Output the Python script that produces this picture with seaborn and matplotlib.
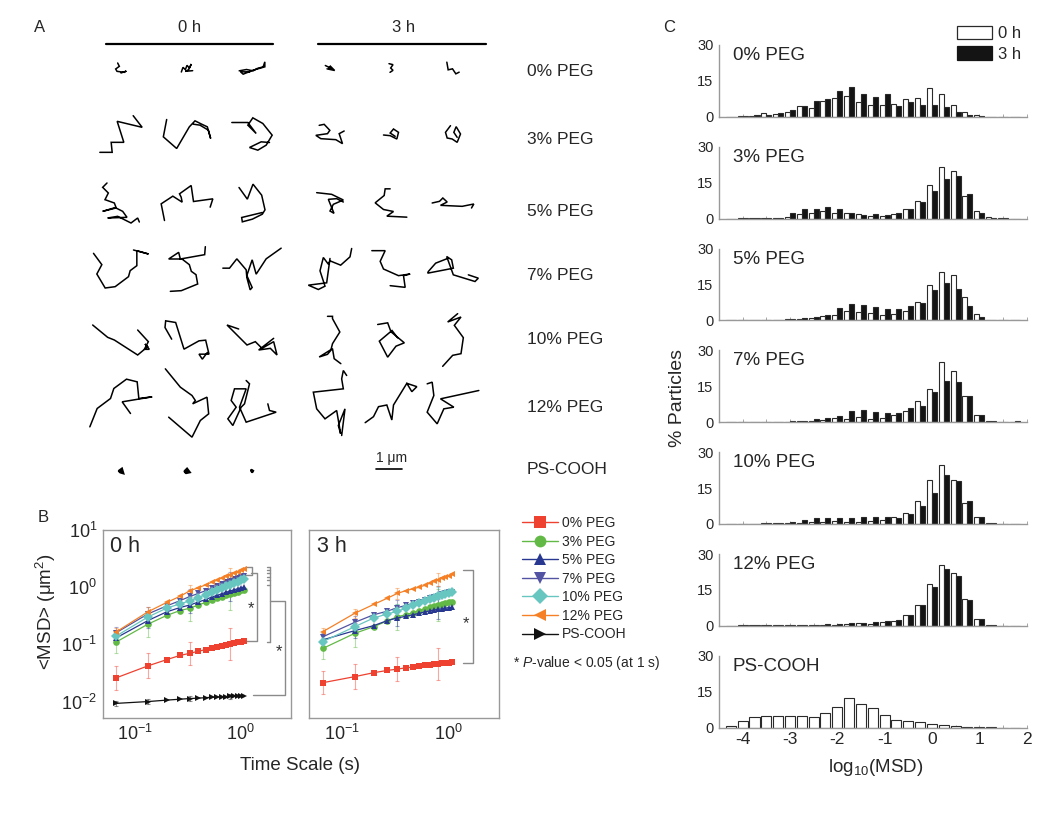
import numpy as np
import pandas as pd
import matplotlib
matplotlib.use("Agg")
import matplotlib.pyplot as plt
import matplotlib.ticker as mticker
from matplotlib.lines import Line2D
from matplotlib.patches import Patch
import seaborn as sns

# ============================ DATA ============================
SERIES = ["0% PEG", "3% PEG", "5% PEG", "7% PEG", "10% PEG", "12% PEG", "PS-COOH"]

# ---- Panel B: MSD vs time scale ----
TIME_S = [0.067, 0.133, 0.2, 0.267, 0.333, 0.4, 0.467, 0.533,
          0.6, 0.667, 0.733, 0.8, 0.867, 0.933, 1.0, 1.067]

MSD_0H_0PEG = [0.026, 0.042, 0.054, 0.064, 0.070, 0.076, 0.081, 0.086, 0.090, 0.094, 0.098, 0.102, 0.106, 0.109, 0.112, 0.115]
MSD_0H_3PEG = [0.11, 0.225, 0.32, 0.39, 0.43, 0.49, 0.54, 0.59, 0.64, 0.68, 0.72, 0.76, 0.80, 0.84, 0.88, 0.91]
MSD_0H_5PEG = [0.13, 0.26, 0.37, 0.44, 0.49, 0.55, 0.61, 0.67, 0.72, 0.77, 0.82, 0.86, 0.90, 0.94, 0.97, 1.00]
MSD_0H_7PEG = [0.16, 0.34, 0.47, 0.58, 0.69, 0.78, 0.87, 0.96, 1.05, 1.13, 1.21, 1.29, 1.37, 1.45, 1.52, 1.60]
MSD_0H_10PEG = [0.14, 0.30, 0.43, 0.51, 0.58, 0.66, 0.74, 0.82, 0.90, 0.97, 1.04, 1.11, 1.18, 1.25, 1.31, 1.37]
MSD_0H_12PEG = [0.165, 0.37, 0.54, 0.69, 0.87, 0.98, 1.10, 1.22, 1.33, 1.45, 1.55, 1.66, 1.78, 1.88, 1.98, 2.08]
MSD_0H_PS = [0.0093, 0.0100, 0.0106, 0.0110, 0.0113, 0.0115, 0.0117, 0.0119, 0.0120, 0.0121, 0.0122, 0.0123, 0.0124, 0.0125, 0.0126, 0.0127]

MSD_3H_0PEG = [0.0214, 0.0273, 0.032, 0.035, 0.037, 0.039, 0.040, 0.042, 0.043, 0.044, 0.045, 0.046, 0.047, 0.0475, 0.048, 0.0486]
MSD_3H_3PEG = [0.085, 0.156, 0.204, 0.257, 0.305, 0.33, 0.36, 0.39, 0.42, 0.45, 0.47, 0.49, 0.51, 0.53, 0.55, 0.56]
MSD_3H_5PEG = [0.12, 0.174, 0.213, 0.26, 0.29, 0.31, 0.33, 0.35, 0.37, 0.385, 0.40, 0.41, 0.42, 0.43, 0.44, 0.445]
MSD_3H_7PEG = [0.136, 0.243, 0.33, 0.38, 0.44, 0.48, 0.52, 0.56, 0.60, 0.64, 0.68, 0.71, 0.75, 0.78, 0.81, 0.835]
MSD_3H_10PEG = [0.112, 0.204, 0.29, 0.34, 0.38, 0.43, 0.48, 0.53, 0.58, 0.62, 0.66, 0.70, 0.73, 0.76, 0.79, 0.81]
MSD_3H_12PEG = [0.167, 0.35, 0.50, 0.64, 0.78, 0.87, 0.94, 1.00, 1.08, 1.17, 1.26, 1.35, 1.43, 1.52, 1.60, 1.68]

# error bars shown at a few time scales only (index into TIME_S), multiplicative spread
ERR_IDX = [0, 1, 4, 11]
ERR_FACTOR = {"0% PEG": [1.6, 1.65, 1.6, 1.9], "3% PEG": [1.55, 1.7, 1.7, 1.9],
              "5% PEG": [1.3, 1.35, 1.4, 1.5], "7% PEG": [1.25, 1.3, 1.35, 1.45],
              "10% PEG": [1.25, 1.3, 1.35, 1.45], "12% PEG": [1.15, 1.2, 1.25, 1.3],
              "PS-COOH": [1.1, 1.1, 1.1, 1.1]}

# ---- Panel C: log10(MSD) histograms (% particles) ----
BIN_CENTERS = [-4.25, -4.0, -3.75, -3.5, -3.25, -3.0, -2.75, -2.5, -2.25, -2.0, -1.75, -1.5, -1.25,
               -1.0, -0.75, -0.5, -0.25, 0.0, 0.25, 0.5, 0.75, 1.0, 1.25, 1.5, 1.75]
H0_0PEG = [0, 0.3, 0.5, 1.5, 1.2, 2.0, 4.3, 3.8, 6.6, 7.8, 8.5, 6.0, 4.8, 5.0, 5.5, 7.6, 8.0, 12.2, 9.3, 5.0, 2.0, 0.6, 0, 0, 0]
H3_0PEG = [0, 0.3, 0.8, 0.8, 1.4, 2.7, 4.3, 6.5, 7.3, 10.6, 12.4, 9.5, 8.4, 9.6, 4.6, 6.1, 4.8, 4.7, 4.0, 2.0, 0.8, 0.3, 0, 0, 0]
H0_3PEG = [0, 0.1, 0.1, 0.2, 0.2, 0.8, 1.8, 2.5, 3.0, 2.4, 2.3, 2.0, 1.0, 1.2, 2.0, 3.8, 7.3, 14.1, 21.5, 20.0, 9.6, 3.1, 0.5, 0.1, 0]
H3_3PEG = [0, 0.1, 0.1, 0.2, 0.3, 2.1, 3.8, 3.9, 5.0, 3.8, 2.3, 1.6, 1.8, 1.6, 2.5, 3.9, 6.7, 11.6, 16.6, 17.8, 10.4, 2.4, 0.3, 0.1, 0]
H0_5PEG = [0, 0, 0, 0.1, 0.2, 0.4, 0.6, 0.9, 1.8, 2.4, 4.0, 3.6, 3.1, 2.2, 2.6, 3.7, 7.8, 14.6, 20.4, 19.0, 9.6, 2.8, 0.3, 0.1, 0]
H3_5PEG = [0, 0, 0, 0.1, 0.3, 0.5, 0.8, 1.2, 2.3, 5.0, 6.8, 6.2, 5.4, 4.8, 4.6, 6.0, 7.3, 12.5, 15.6, 13.2, 5.8, 1.4, 0.2, 0.1, 0]
H0_7PEG = [0, 0.1, 0.1, 0.1, 0.2, 0.2, 0.4, 0.6, 0.8, 1.9, 1.5, 2.1, 1.5, 1.8, 2.9, 4.5, 8.8, 14.0, 25.3, 21.2, 10.9, 3.1, 0.3, 0.1, 0.1]
H3_7PEG = [0, 0.1, 0.1, 0.1, 0.2, 0.3, 0.5, 1.2, 1.8, 2.7, 4.8, 5.0, 4.3, 3.7, 3.8, 5.8, 6.9, 12.5, 17.0, 16.8, 10.9, 3.1, 0.3, 0.1, 0.3]
H0_10PEG = [0, 0.1, 0.1, 0.2, 0.3, 0.4, 0.5, 0.9, 1.0, 1.3, 1.0, 1.0, 1.1, 1.6, 2.7, 4.4, 9.5, 18.5, 24.5, 18.3, 8.8, 2.8, 0.3, 0.1, 0]
H3_10PEG = [0, 0.1, 0.1, 0.2, 0.3, 0.8, 1.7, 2.6, 2.6, 2.4, 2.3, 2.9, 2.8, 2.8, 2.6, 4.1, 7.5, 13.0, 20.5, 18.0, 9.4, 2.7, 0.2, 0.1, 0]
H0_12PEG = [0, 0.1, 0.1, 0.1, 0.1, 0.2, 0.3, 0.4, 0.5, 0.5, 0.8, 1.0, 0.9, 1.4, 1.8, 4.3, 8.8, 17.5, 25.3, 22.2, 11.2, 3.0, 0.3, 0, 0]
H3_12PEG = [0, 0.1, 0.1, 0.1, 0.2, 0.3, 0.3, 0.5, 0.6, 0.8, 1.0, 1.2, 1.5, 1.9, 2.3, 4.3, 8.7, 16.2, 23.8, 20.8, 10.9, 3.0, 0.2, 0, 0]
H0_PS = [0.8, 2.7, 4.3, 4.9, 4.9, 4.9, 4.8, 4.6, 6.0, 8.6, 12.2, 9.9, 8.2, 5.2, 3.2, 2.9, 2.1, 1.5, 1.1, 0.7, 0.3, 0.15, 0.1, 0, 0]

# ---- Panel A: example trajectories (traced, 78 units = 1 um) ----
TRACE_UNITS_PER_UM = 78
TRAJ_0PEG = [
    [(352, 182), (357, 192), (346, 200), (350, 207), (372, 210), (378, 206), (362, 212)],
    [(548, 212), (553, 198), (560, 205), (565, 192), (572, 200), (578, 188), (570, 205), (560, 210), (582, 208)],
    [(718, 212), (740, 208), (760, 212), (772, 205), (790, 200), (795, 185), (795, 200), (760, 210), (730, 222), (722, 215), (750, 215)],
    [(975, 190), (985, 195), (995, 200), (985, 198), (990, 192), (1003, 205), (980, 200)],
    [(1160, 192), (1172, 195), (1165, 205), (1172, 212), (1163, 218)],
    [(1343, 175), (1347, 198), (1360, 195), (1370, 210), (1380, 205)],
]
TRAJ_3PEG = [
    [(298, 455), (335, 455), (332, 425), (370, 425), (350, 362), (425, 380), (398, 345)],
    [(500, 358), (490, 410), (530, 445), (568, 380), (585, 362), (605, 372), (622, 380), (632, 415), (625, 390), (600, 375), (580, 372)],
    [(697, 372), (745, 372), (770, 405), (745, 380), (760, 358), (790, 375), (818, 410), (800, 440), (775, 455), (750, 447), (785, 430), (810, 432)],
    [(960, 375), (975, 372), (992, 390), (985, 400), (950, 405), (965, 415), (1010, 418), (1030, 430), (1020, 400), (1035, 392)],
    [(1150, 408), (1170, 410), (1190, 420), (1195, 400), (1180, 390), (1170, 402), (1185, 412)],
    [(1355, 375), (1340, 395), (1345, 412), (1360, 415), (1375, 425), (1385, 400), (1372, 378), (1365, 395), (1375, 410)],
]
TRAJ_5PEG = [
    [(318, 545), (305, 558), (322, 575), (312, 595), (340, 605), (345, 618), (305, 630), (345, 620), (365, 630), (378, 648), (320, 650), (350, 645), (390, 665), (410, 650), (415, 662)],
    [(495, 655), (485, 605), (520, 582), (548, 600), (545, 585), (540, 575), (575, 550), (582, 598), (640, 590), (632, 615)],
    [(720, 565), (745, 600), (762, 555), (788, 588), (798, 632), (790, 645), (760, 660), (730, 668), (728, 655), (790, 640)],
    [(950, 570), (995, 575), (1030, 592), (1000, 605), (990, 625), (1002, 632), (985, 590), (1010, 588), (1030, 598)],
    [(1170, 560), (1155, 560), (1152, 580), (1125, 602), (1150, 622), (1180, 628), (1160, 642), (1220, 645)],
    [(1300, 605), (1322, 600), (1332, 590), (1345, 602), (1325, 612), (1390, 615), (1425, 608), (1418, 620)],
]
TRAJ_7PEG = [
    [(280, 38), (305, 72), (290, 100), (315, 142), (345, 138), (385, 108), (390, 90), (410, 75), (410, 30), (445, 40), (400, 28)],
    [(620, 18), (618, 42), (545, 55), (540, 35), (510, 55), (550, 55), (572, 72), (578, 92), (592, 102), (597, 130), (548, 150), (515, 152)],
    [(670, 90), (690, 90), (712, 62), (740, 95), (742, 118), (752, 155), (758, 148), (742, 112), (758, 65), (770, 108), (800, 62), (845, 30)],
    [(1055, 25), (1050, 50), (1022, 75), (990, 62), (985, 72), (970, 52), (960, 92), (975, 138), (955, 148), (925, 135), (980, 128), (990, 55)],
    [(1115, 30), (1155, 30), (1140, 62), (1150, 85), (1195, 105), (1230, 100), (1210, 105), (1215, 140), (1170, 135)],
    [(1350, 55), (1312, 70), (1290, 95), (1288, 100), (1340, 90), (1365, 85), (1360, 60), (1345, 50), (1365, 105), (1430, 125), (1440, 115), (1410, 105)],
]
TRAJ_10PEG = [
    [(275, 245), (320, 282), (340, 290), (410, 335), (440, 310), (432, 302), (445, 318), (430, 318), (442, 295), (410, 260)],
    [(518, 285), (498, 250), (500, 230), (530, 235), (555, 315), (600, 290), (620, 288), (630, 330), (600, 330), (610, 345), (625, 325)],
    [(720, 262), (685, 250), (745, 310), (770, 300), (790, 320), (825, 300), (835, 340), (815, 320), (780, 325), (825, 290)],
    [(985, 218), (1000, 218), (1000, 225), (1022, 265), (1000, 300), (995, 320), (985, 332), (960, 340), (1000, 315), (1005, 345), (1025, 360)],
    [(1135, 240), (1165, 235), (1175, 262), (1215, 295), (1190, 305), (1165, 338), (1140, 290), (1178, 258), (1195, 280)],
    [(1375, 220), (1345, 245), (1385, 230), (1365, 255), (1392, 292), (1385, 340), (1360, 345), (1330, 378)],
]
TRAJ_12PEG = [
    [(268, 565), (290, 510), (330, 480), (340, 450), (378, 422), (410, 430), (415, 480), (455, 475), (365, 490), (390, 525)],
    [(500, 385), (545, 440), (580, 465), (590, 480), (582, 490), (625, 470), (630, 520), (605, 540), (580, 590), (510, 530)],
    [(740, 430), (750, 440), (735, 500), (725, 510), (700, 565), (685, 545), (710, 510), (695, 490), (705, 455), (740, 455), (720, 510), (740, 555), (830, 525), (810, 520), (805, 500)],
    [(1040, 410), (1030, 395), (1025, 420), (1030, 450), (940, 460), (950, 510), (975, 540), (1010, 515), (1022, 585), (1015, 560), (1035, 510), (1025, 590)],
    [(1095, 548), (1120, 530), (1135, 500), (1160, 495), (1175, 540), (1180, 495), (1220, 430), (1250, 440), (1235, 455), (1220, 430)],
    [(1285, 445), (1300, 440), (1305, 480), (1285, 530), (1315, 565), (1335, 520), (1365, 515), (1325, 490), (1440, 465)],
]
TRAJ_PS = [
    [(355, 695), (362, 690), (365, 700), (358, 698)],
    [(560, 690), (566, 684), (572, 692), (563, 694)],
    [(755, 698), (758, 700), (757, 702)],
]

# ============================ STYLE ============================
COLORS = {"0% PEG": "#EF4130", "3% PEG": "#62B946", "5% PEG": "#283891", "7% PEG": "#5253A3",
          "10% PEG": "#67C6C0", "12% PEG": "#F58026", "PS-COOH": "#111111"}
MARKERS = {"0% PEG": "s", "3% PEG": "o", "5% PEG": "^", "7% PEG": "v",
           "10% PEG": "D", "12% PEG": "<", "PS-COOH": ">"}
GRAY = "#999999"

sns.set_theme(style="white")
plt.rcParams["font.family"] = ["Liberation Sans", "DejaVu Sans"]
plt.rcParams["mathtext.fontset"] = "custom"
plt.rcParams["mathtext.rm"] = "Liberation Sans"
plt.rcParams["mathtext.it"] = "Liberation Sans:italic"
plt.rcParams["mathtext.bf"] = "Liberation Sans:bold"
plt.rcParams["axes.unicode_minus"] = False

W, H = 1050, 816
fig = plt.figure(figsize=(W / 100, H / 100), dpi=100)


def fx(px):
    return px / W


def fy(py):
    return 1 - py / H


# ============================ PANEL A ============================
axA = fig.add_axes([0, fy(490), fx(520), 490 / H])
axA.set_xlim(0, 520)
axA.set_ylim(490, 0)
axA.axis("off")
PX_PER_UM = 26
COL_X = [121, 187, 252, 330, 391, 453]
ROW_Y = [68, 134, 203, 269, 340, 403, 471]
rows = [TRAJ_0PEG, TRAJ_3PEG, TRAJ_5PEG, TRAJ_7PEG, TRAJ_10PEG, TRAJ_12PEG, TRAJ_PS]
scale = PX_PER_UM / TRACE_UNITS_PER_UM
for r, trajs in enumerate(rows):
    for c, tr in enumerate(trajs):
        arr = np.array(tr, dtype=float)
        cx = (arr[:, 0].min() + arr[:, 0].max()) / 2
        cy = (arr[:, 1].min() + arr[:, 1].max()) / 2
        xs = COL_X[c] + (arr[:, 0] - cx) * scale
        ys = ROW_Y[r] + (arr[:, 1] - cy) * scale
        lw = 2.2 if r == 6 else 1.1
        axA.plot(xs, ys, color="black", lw=lw, solid_joinstyle="miter")

axA.text(40, 27, "A", fontsize=12, ha="center", va="center")
axA.text(190, 27, "0 h", fontsize=12, ha="center", va="center")
axA.text(404, 27, "3 h", fontsize=12, ha="center", va="center")
axA.plot([106, 273], [43.5, 43.5], color="black", lw=1.6)
axA.plot([318, 486], [43.5, 43.5], color="black", lw=1.6)
for lab, yy in zip(SERIES, [72, 140, 211, 276, 340, 408, 470]):
    axA.text(527, yy, lab, fontsize=12.5, ha="left", va="center")
axA.plot([376, 376 + PX_PER_UM], [468.5, 468.5], color="black", lw=1.2)
axA.text(392, 458, "1 μm", fontsize=10, ha="center", va="center")

# ============================ PANEL B ============================
axB0 = fig.add_axes([fx(102.7), fy(718.3), 188 / W, 188.3 / H])
axB1 = fig.add_axes([fx(309.3), fy(718.3), 189.7 / W, 188.3 / H])

msd_sets = {
    "0 h": dict(zip(SERIES, [MSD_0H_0PEG, MSD_0H_3PEG, MSD_0H_5PEG, MSD_0H_7PEG, MSD_0H_10PEG, MSD_0H_12PEG, MSD_0H_PS])),
    "3 h": dict(zip(SERIES[:-1], [MSD_3H_0PEG, MSD_3H_3PEG, MSD_3H_5PEG, MSD_3H_7PEG, MSD_3H_10PEG, MSD_3H_12PEG])),
}

for ax, (tlabel, sets) in zip([axB0, axB1], msd_sets.items()):
    rows_df = []
    for s, vals in sets.items():
        for t, v in zip(TIME_S, vals):
            rows_df.append({"t": t, "msd": v, "series": s})
    df = pd.DataFrame(rows_df)
    order = [s for s in SERIES if s in sets]
    for s in order:
        vals = np.array(sets[s])
        tt = np.array(TIME_S)[ERR_IDX]
        yy = vals[ERR_IDX]
        f = np.array(ERR_FACTOR[s])
        ax.errorbar(tt, yy, yerr=[yy - yy / f, yy * f - yy], fmt="none",
                    ecolor=COLORS[s], alpha=0.45, elinewidth=0.8, capsize=1.5, capthick=0.8, zorder=1)
    sns.lineplot(data=df, x="t", y="msd", hue="series", style="series", hue_order=order,
                 style_order=order, palette=COLORS, markers=MARKERS, dashes=False,
                 estimator=None, sort=False, legend=False, ax=ax,
                 linewidth=0.9, markersize=4.8, markeredgewidth=0, zorder=3)
    ax.set_xscale("log")
    ax.set_yscale("log")
    ax.set_xlim(0.05, 2.96)
    ax.set_ylim(0.0051, 10)
    ax.set_xlabel("")
    ax.set_ylabel("")
    ax.xaxis.set_major_locator(mticker.LogLocator(base=10, numticks=10))
    ax.xaxis.set_minor_locator(mticker.LogLocator(base=10, subs=np.arange(2, 10), numticks=10))
    ax.yaxis.set_major_locator(mticker.LogLocator(base=10, numticks=10))
    ax.yaxis.set_minor_locator(mticker.LogLocator(base=10, subs=np.arange(2, 10), numticks=10))
    ax.xaxis.set_minor_formatter(mticker.NullFormatter())
    ax.yaxis.set_minor_formatter(mticker.NullFormatter())
    ax.tick_params(which="both", direction="in", color=GRAY, labelsize=13, pad=4)
    ax.tick_params(which="major", length=4, width=0.8)
    ax.tick_params(which="minor", length=2, width=0.6)
    for sp in ax.spines.values():
        sp.set_color(GRAY)
        sp.set_linewidth(1.0)
    ax.text(0.04, 0.883, tlabel, transform=ax.transAxes, fontsize=15.5, ha="left", va="baseline")

axB1.tick_params(labelleft=False)

# significance brackets (axes-fraction coordinates)
bk = dict(color="#8a8a8a", lw=1.0, clip_on=False, transform=axB0.transAxes)
axB0.plot([0.757, 0.793, 0.793, 0.757], [0.805, 0.805, 0.761, 0.761], **bk)
axB0.plot([0.79, 0.822, 0.822, 0.757], [0.773, 0.773, 0.41, 0.41], **bk)
axB0.plot([0.89, 0.89], [0.805, 0.407], **bk)
for yy in [0.805, 0.787, 0.77, 0.752, 0.734, 0.708, 0.407]:
    axB0.plot([0.872, 0.89], [yy, yy], **bk)
axB0.plot([0.89, 0.97, 0.97, 0.80], [0.625, 0.625, 0.124, 0.124], **bk)
axB0.text(0.79, 0.585, "*", transform=axB0.transAxes, fontsize=12, ha="center", va="center", color="#333333")
axB0.text(0.94, 0.355, "*", transform=axB0.transAxes, fontsize=12, ha="center", va="center", color="#333333")
bk1 = dict(bk, transform=axB1.transAxes)
axB1.plot([0.812, 0.865, 0.865, 0.812], [0.788, 0.788, 0.292, 0.292], **bk1)
axB1.text(0.824, 0.505, "*", transform=axB1.transAxes, fontsize=12, ha="center", va="center", color="#333333")

fig.text(fx(43), fy(517), "B", fontsize=12, ha="center", va="center")
fig.text(fx(300), fy(766), "Time Scale (s)", fontsize=13.5, ha="center", va="center")
fig.text(fx(46), fy(612), "<MSD> (μm$^2$)", fontsize=13.5, ha="center", va="center", rotation=90)

handles = [Line2D([], [], color=COLORS[s], marker=MARKERS[s], markersize=8.5, lw=1.0,
                  markeredgewidth=0) for s in SERIES]
fig.legend(handles, SERIES, loc="upper left", bbox_to_anchor=(fx(522), fy(516)),
           frameon=False, fontsize=10, handlelength=2.6, handletextpad=0.25,
           labelspacing=0.33, borderpad=0, borderaxespad=0)
fig.text(fx(513), fy(663), "* $\\it{P}$-value < 0.05 (at 1 s)", fontsize=10, ha="left", va="center")

# ============================ PANEL C ============================
hist_sets = [
    ("0% PEG", H0_0PEG, H3_0PEG), ("3% PEG", H0_3PEG, H3_3PEG), ("5% PEG", H0_5PEG, H3_5PEG),
    ("7% PEG", H0_7PEG, H3_7PEG), ("10% PEG", H0_10PEG, H3_10PEG), ("12% PEG", H0_12PEG, H3_12PEG),
    ("PS-COOH", H0_PS, None),
]
BAR_COLORS = {"0 h": "white", "3 h": "#141414"}
for i, (name, h0, h3) in enumerate(hist_sets):
    bottom_px = 116.7 + 101.8 * i
    ax = fig.add_axes([fx(719), fy(bottom_px), (1026.5 - 719) / W, 71.7 / H])
    rec = [{"center": c, "pct": v, "time": "0 h"} for c, v in zip(BIN_CENTERS, h0)]
    hue_order = ["0 h"]
    if h3 is not None:
        rec += [{"center": c, "pct": v, "time": "3 h"} for c, v in zip(BIN_CENTERS, h3)]
        hue_order = ["0 h", "3 h"]
    df = pd.DataFrame(rec)
    sns.barplot(data=df, x="center", y="pct", hue="time", hue_order=hue_order,
                palette=BAR_COLORS, native_scale=True, width=0.85, dodge=True,
                errorbar=None, saturation=1, edgecolor="#2a2a2a", linewidth=0.8,
                legend=False, ax=ax)
    ax.set_xlim(-4.5, 2.0)
    ax.set_ylim(0, 30)
    ax.set_xlabel("")
    ax.set_ylabel("")
    ax.set_yticks([0, 15, 30])
    ax.set_yticklabels(["0", "15", "30"])
    ax.set_xticks(range(-4, 3))
    ax.set_xticklabels([str(v) for v in range(-4, 3)])
    ax.xaxis.set_minor_locator(mticker.MultipleLocator(0.5))
    ax.spines["top"].set_visible(False)
    ax.spines["right"].set_visible(False)
    for sp in ["left", "bottom"]:
        ax.spines[sp].set_color(GRAY)
        ax.spines[sp].set_linewidth(1.0)
    ax.tick_params(axis="y", direction="out", length=3, width=0.8, color=GRAY, labelsize=10.5, pad=1)
    ax.tick_params(axis="x", which="both", direction="in", length=2, width=0.6, color=GRAY,
                   labelsize=12.5, pad=3, bottom=True)
    if i < len(hist_sets) - 1:
        ax.tick_params(axis="x", labelbottom=False)
    ax.text(0.045, 0.79, name, transform=ax.transAxes, fontsize=13.5, ha="left", va="baseline")

leg_handles = [Patch(facecolor="white", edgecolor="#2a2a2a", lw=0.9),
               Patch(facecolor="#141414", edgecolor="#141414", lw=0.9)]
fig.legend(leg_handles, ["0 h", "3 h"], loc="upper left", bbox_to_anchor=(fx(957), fy(26)),
           frameon=False, fontsize=12, handlelength=2.1, handleheight=0.85, handletextpad=0.35,
           labelspacing=0.3, borderpad=0, borderaxespad=0)

fig.text(fx(669), fy(27), "C", fontsize=12, ha="center", va="center")
fig.text(fx(677), fy(398), "% Particles", fontsize=14, ha="center", va="center", rotation=90)
fig.text(fx(876), fy(768), "log$_{10}$(MSD)", fontsize=13.5, ha="center", va="center")

fig.savefig("out.png", dpi=100, facecolor="white")
